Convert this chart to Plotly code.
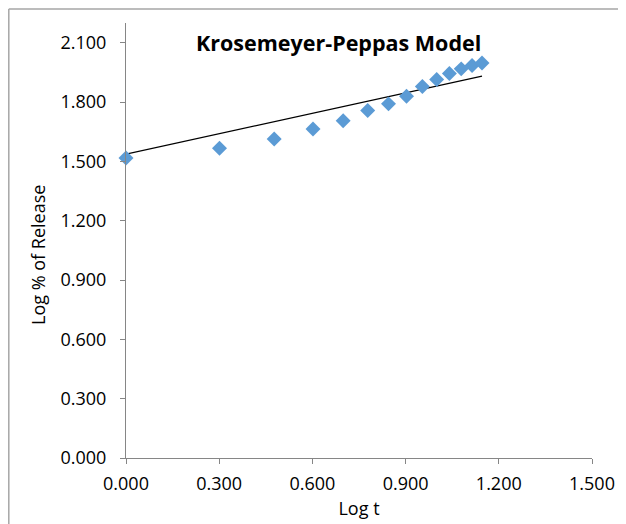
import plotly.graph_objects as go

# Data
log_t = [0.000, 0.301, 0.477, 0.602, 0.699, 0.778, 0.845, 0.903, 0.954, 1.000, 1.041, 1.079, 1.114, 1.146]
log_release = [1.517, 1.567, 1.613, 1.664, 1.706, 1.757, 1.791, 1.830, 1.879, 1.914, 1.945, 1.968, 1.985, 1.998]
x_ticks = [0.0, 0.3, 0.6, 0.9, 1.2, 1.5]
y_ticks = [0.0, 0.3, 0.6, 0.9, 1.2, 1.5, 1.8, 2.1]
# trendline as drawn in the chart (intercept / slope)
trend_intercept = 1.537
trend_slope = 0.344

trend_x = [min(log_t), max(log_t)]
trend_y = [trend_intercept + trend_slope * v for v in trend_x]

# page body has an 8px default margin; compensate so the figure lands on the window
OX, OY = 8, 8
WIN_W, WIN_H = 626, 524
W, H = WIN_W - OX, WIN_H - OY
L, R, T, B = 126 - OX, 34, 23 - OY, 66
pw, ph = W - L - R, H - T - B

def px(xwin):
    return (xwin - OX - L) / pw

def py(ywin):
    return (H - B - (ywin - OY)) / ph

fig = go.Figure()
fig.add_trace(go.Scatter(
    x=trend_x, y=trend_y, mode="lines",
    line=dict(color="black", width=1.1),
    showlegend=False,
))
fig.add_trace(go.Scatter(
    x=log_t, y=log_release, mode="markers",
    marker=dict(symbol="diamond", size=11.5, color="#5b9bd5", line=dict(width=0)),
    showlegend=False, cliponaxis=False,
))

axis_common = dict(
    showgrid=False, zeroline=False, showline=True, linecolor="#868686", linewidth=1,
    ticks="outside", ticklen=5, tickcolor="#868686", tickwidth=1,
    tickfont=dict(family="Open Sans", size=18, color="black"),
    tickformat=".3f", automargin=False,
)
fig.update_xaxes(range=[0, 1.5], tickvals=x_ticks, ticklabelstandoff=4, **axis_common,
                 title=dict(text="Log t", font=dict(family="Open Sans", size=18, color="black"), standoff=8))
fig.update_yaxes(range=[0, 2.2], tickvals=y_ticks, ticklabelstandoff=10, **axis_common)

fig.add_annotation(
    text="Log % of Release", xref="paper", yref="paper",
    x=px(38), y=py(255), xanchor="center", yanchor="middle", showarrow=False,
    textangle=-90, font=dict(family="Open Sans", size=18, color="black"),
)
fig.add_annotation(
    text="<b>Krosemeyer-Peppas Model</b>", xref="paper", yref="paper",
    x=px(338), y=py(42), xanchor="center", yanchor="middle", showarrow=False,
    font=dict(family="Open Sans", size=21.5, color="black"),
)

# outer chart frame (left and top edges visible)
frame = "#a6a6a6"
fig.add_shape(type="line", xref="paper", yref="paper", x0=px(8.8), x1=px(8.8), y0=py(9), y1=py(540),
              line=dict(color=frame, width=1.5))
fig.add_shape(type="line", xref="paper", yref="paper", x0=px(8.8), x1=px(640), y0=py(9), y1=py(9),
              line=dict(color=frame, width=1.5))

fig.update_layout(
    width=W, height=H, margin=dict(l=L, r=R, t=T, b=B),
    paper_bgcolor="white", plot_bgcolor="white",
)
fig.write_html("out.html")
